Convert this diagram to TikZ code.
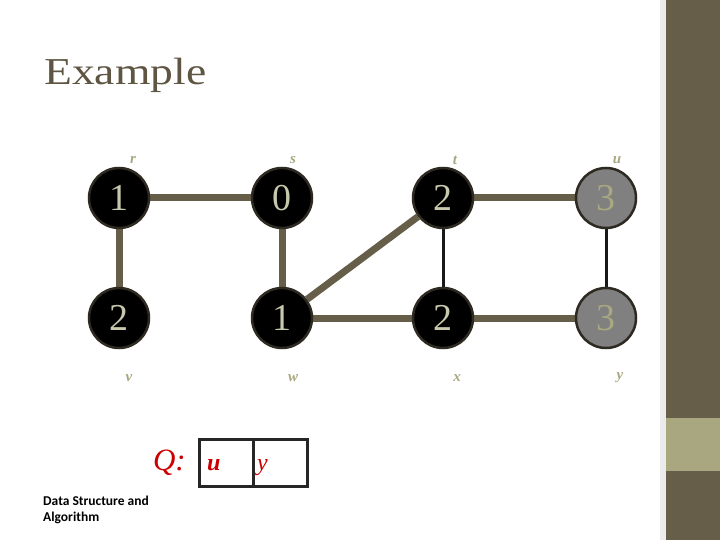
\documentclass[tikz,border=0pt]{standalone}
\usepackage{fontspec}
\usetikzlibrary{backgrounds}
\setmainfont{Liberation Serif}
\newfontfamily\calib{Carlito}
\definecolor{olive}{HTML}{665E48}
\definecolor{khaki}{HTML}{A9A77F}
\definecolor{digit}{HTML}{C8C8AC}
\definecolor{rim}{HTML}{2E2A22}
\definecolor{qred}{HTML}{CC0000}
\definecolor{titlec}{HTML}{5E5643}
\begin{document}
\begin{tikzpicture}[x=1pt,y=-1pt,
  vtx/.style={circle, minimum size=60pt, inner sep=0pt, fill=black, draw=rim, line width=2.5pt,
    font=\fontsize{38}{38}\selectfont, text=digit},
  gvtx/.style={vtx, fill=gray!100, text=khaki},
  lab/.style={font=\fontsize{15}{15}\selectfont\bfseries\itshape, text=khaki, inner sep=0pt},
  thick edge/.style={line width=7pt, draw=olive},
  thin edge/.style={line width=3pt, draw=black!90},
  qbox/.style={draw=black!85, line width=2.5pt, minimum width=54pt, minimum height=47pt, inner sep=0pt, anchor=north west}
]
\useasboundingbox (0,0) rectangle (720,540);
\begin{scope}[on background layer]
\fill[white] (0,0) rectangle (720,540);
\fill[black!8] (660,0) rectangle (666,540);
\fill[olive] (666,0) rectangle (720,540);
\fill[khaki] (666,418) rectangle (720,471);
\end{scope}

\node[anchor=base west, inner sep=0pt, text=titlec] (title) at (44,85)
  {\scalebox{1.2}[1]{\fontsize{38}{38}\selectfont Example}};

\node[vtx] (r) at (119,198) {1};
\node[vtx] (s) at (282,198) {0};
\node[vtx] (t) at (443,198) {2};
\node[gvtx] (u) at (606,198) {3};
\node[vtx] (v) at (119,318) {2};
\node[vtx] (w) at (282,318) {1};
\node[vtx] (x) at (443,318) {2};
\node[gvtx] (y) at (606,318) {3};

\begin{scope}[on background layer]
\draw[thick edge] (r) -- (s);
\draw[thick edge] (r) -- (v);
\draw[thick edge] (s) -- (w);
\draw[thick edge] (w) -- (t);
\draw[thick edge] (t) -- (u);
\draw[thick edge] (w) -- (x);
\draw[thick edge] (x) -- (y);
\draw[thin edge] (t) -- (x);
\draw[thin edge] (u) -- (y);
\end{scope}

\node[lab] (lr) at (133,160) {r};
\node[lab] (ls) at (293,160) {s};
\node[lab] (lt) at (455,160) {t};
\node[lab] (lu) at (617,160) {u};
\node[lab] (lv) at (129,378) {v};
\node[lab] (lw) at (293,378) {w};
\node[lab] (lx) at (457,378) {x};
\node[lab] (ly) at (620,378) {y};

\node[qbox] (q1) at (198,438) {};
\node[qbox] (q2) at (252,438) {};
\node[anchor=east, inner sep=0pt, text=qred, font=\fontsize{31}{31}\selectfont\itshape] (ql) at (186,463) {Q:};
\node[anchor=base west, inner sep=0pt, text=qred, font=\fontsize{24}{24}\selectfont\bfseries\itshape] (qu) at (207,470) {u};
\node[anchor=base west, inner sep=0pt, text=qred, font=\fontsize{24}{24}\selectfont\itshape] (qy) at (257,470) {y};

\node[anchor=north west, inner sep=0pt, align=left, font=\calib\bfseries\fontsize{13.5}{16}\selectfont] (ds) at (43,496)
  {Data Structure and\\Algorithm};
\end{tikzpicture}
\end{document}
